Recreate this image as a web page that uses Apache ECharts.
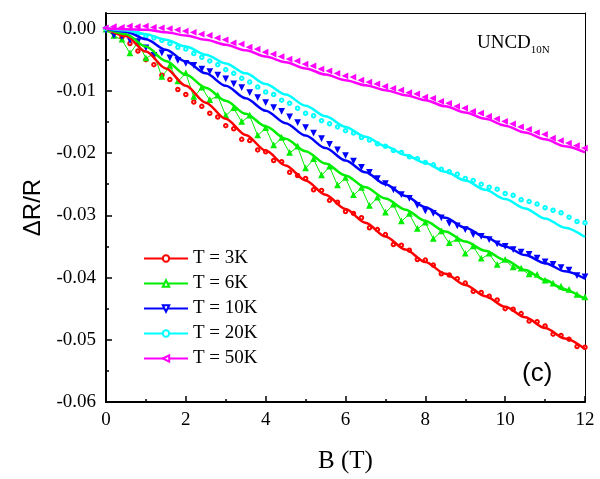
<!DOCTYPE html>
<html><head><meta charset="utf-8">
<script src="https://cdn.jsdelivr.net/npm/echarts@6/dist/echarts.min.js"></script>
<style>html,body{margin:0;padding:0;background:#fff}#c{width:600px;height:479px}</style>
</head><body><div id="c"></div>
<script>
const seriesNames = ['T = 3K','T = 6K','T = 10K','T = 20K','T = 50K'];
const colors = ['#ff0000','#00ee00','#0000ff','#00ffff','#ff00ff'];
const xTicks = [0,2,4,6,8,10,12];
const yTicks = [-0.06,-0.05,-0.04,-0.03,-0.02,-0.01,0.00];

// Fit curve field values (T)
const bFit = [0,0.5,1,1.5,2,2.5,3,3.5,4,4.5,5,5.5,6,6.5,7,7.5,8,8.5,9,9.5,10,10.5,11,11.5,12];
const fit3K  = [0,-0.0012,-0.0037,-0.0064,-0.0092,-0.0119,-0.0145,-0.0171,-0.0196,-0.0220,-0.0244,-0.0267,-0.0290,-0.0312,-0.0334,-0.0355,-0.0375,-0.0394,-0.0412,-0.0430,-0.0447,-0.0464,-0.0481,-0.0498,-0.0515];
const fit6K  = [0,-0.0009,-0.0029,-0.0052,-0.0074,-0.0095,-0.0116,-0.0137,-0.0157,-0.0177,-0.0197,-0.0217,-0.0236,-0.0255,-0.0273,-0.0291,-0.0309,-0.0326,-0.0342,-0.0357,-0.0372,-0.0388,-0.0404,-0.0420,-0.0435];
const fit10K = [0,-0.0005,-0.0017,-0.0034,-0.0053,-0.0072,-0.0092,-0.0112,-0.0132,-0.0152,-0.0172,-0.0192,-0.0212,-0.0231,-0.0250,-0.0269,-0.0287,-0.0304,-0.0320,-0.0335,-0.0350,-0.0364,-0.0377,-0.0390,-0.0402];
const fit20K = [0,-0.0003,-0.0009,-0.0018,-0.0029,-0.0042,-0.0056,-0.0072,-0.0089,-0.0106,-0.0124,-0.0141,-0.0158,-0.0174,-0.0189,-0.0203,-0.0216,-0.0230,-0.0244,-0.0259,-0.0274,-0.0289,-0.0305,-0.0320,-0.0335];
const fit50K = [0,-0.0001,-0.0002,-0.0006,-0.0011,-0.0018,-0.0026,-0.0035,-0.0045,-0.0054,-0.0064,-0.0074,-0.0083,-0.0091,-0.0099,-0.0107,-0.0115,-0.0125,-0.0135,-0.0145,-0.0156,-0.0167,-0.0178,-0.0189,-0.0199];

// Measured data field values (T)
const bData = [0,0.2,0.4,0.6,0.8,1.0,1.2,1.4,1.6,1.8,2.0,2.2,2.4,2.6,2.8,3.0,3.2,3.4,3.6,3.8,4.0,4.2,4.4,4.6,4.8,5.0,5.2,5.4,5.6,5.8,6.0,6.2,6.4,6.6,6.8,7.0,7.2,7.4,7.6,7.8,8.0,8.2,8.4,8.6,8.8,9.0,9.2,9.4,9.6,9.8,10.0,10.2,10.4,10.6,10.8,11.0,11.2,11.4,11.6,11.8,12.0];
const data3K = [0.0000,-0.0006,-0.0014,-0.0024,-0.0036,-0.0050,-0.0058,-0.0075,-0.0082,-0.0098,-0.0106,-0.0118,-0.0125,-0.0136,-0.0142,-0.0156,-0.0161,-0.0178,-0.0180,-0.0195,-0.0198,-0.0212,-0.0214,-0.0231,-0.0236,-0.0241,-0.0259,-0.0260,-0.0276,-0.0279,-0.0294,-0.0297,-0.0304,-0.0320,-0.0323,-0.0331,-0.0347,-0.0348,-0.0356,-0.0371,-0.0372,-0.0380,-0.0394,-0.0396,-0.0402,-0.0409,-0.0422,-0.0424,-0.0430,-0.0436,-0.0450,-0.0451,-0.0458,-0.0470,-0.0471,-0.0478,-0.0491,-0.0493,-0.0499,-0.0511,-0.0512];
const data6K = [-0.0002,-0.0012,-0.0018,-0.0040,-0.0022,-0.0048,-0.0040,-0.0078,-0.0060,-0.0085,-0.0072,-0.0110,-0.0095,-0.0115,-0.0108,-0.0140,-0.0128,-0.0150,-0.0140,-0.0172,-0.0160,-0.0188,-0.0176,-0.0200,-0.0190,-0.0225,-0.0210,-0.0236,-0.0222,-0.0252,-0.0240,-0.0268,-0.0256,-0.0285,-0.0272,-0.0296,-0.0283,-0.0310,-0.0298,-0.0322,-0.0312,-0.0338,-0.0326,-0.0345,-0.0338,-0.0362,-0.0350,-0.0370,-0.0362,-0.0380,-0.0372,-0.0384,-0.0386,-0.0395,-0.0396,-0.0405,-0.0410,-0.0415,-0.0420,-0.0428,-0.0432];
const data10K = [-0.0002,-0.0010,-0.0012,-0.0018,-0.0020,-0.0030,-0.0042,-0.0038,-0.0046,-0.0050,-0.0055,-0.0058,-0.0064,-0.0068,-0.0074,-0.0080,-0.0088,-0.0094,-0.0102,-0.0110,-0.0118,-0.0126,-0.0132,-0.0141,-0.0150,-0.0158,-0.0167,-0.0176,-0.0185,-0.0194,-0.0203,-0.0212,-0.0222,-0.0230,-0.0240,-0.0248,-0.0258,-0.0266,-0.0272,-0.0283,-0.0292,-0.0296,-0.0303,-0.0312,-0.0316,-0.0322,-0.0330,-0.0333,-0.0338,-0.0345,-0.0349,-0.0354,-0.0358,-0.0362,-0.0368,-0.0374,-0.0378,-0.0383,-0.0387,-0.0396,-0.0398];
const data20K = [0.0000,-0.0002,-0.0003,-0.0005,-0.0008,-0.0012,-0.0015,-0.0019,-0.0024,-0.0030,-0.0033,-0.0040,-0.0046,-0.0052,-0.0058,-0.0066,-0.0072,-0.0080,-0.0086,-0.0094,-0.0102,-0.0106,-0.0115,-0.0120,-0.0128,-0.0136,-0.0140,-0.0148,-0.0153,-0.0158,-0.0164,-0.0168,-0.0175,-0.0179,-0.0185,-0.0189,-0.0196,-0.0199,-0.0206,-0.0209,-0.0215,-0.0219,-0.0226,-0.0230,-0.0234,-0.0241,-0.0244,-0.0250,-0.0255,-0.0258,-0.0265,-0.0268,-0.0275,-0.0278,-0.0282,-0.0288,-0.0292,-0.0296,-0.0303,-0.0310,-0.0312];
const data50K = [0.0001,0.0003,0.0002,0.0004,0.0003,0.0004,0.0002,0.0001,0.0000,-0.0002,-0.0004,-0.0006,-0.0009,-0.0011,-0.0015,-0.0018,-0.0023,-0.0025,-0.0030,-0.0033,-0.0038,-0.0041,-0.0045,-0.0049,-0.0052,-0.0057,-0.0060,-0.0065,-0.0068,-0.0072,-0.0076,-0.0078,-0.0083,-0.0086,-0.0089,-0.0093,-0.0096,-0.0099,-0.0103,-0.0105,-0.0110,-0.0112,-0.0117,-0.0120,-0.0125,-0.0128,-0.0133,-0.0136,-0.0141,-0.0145,-0.0149,-0.0153,-0.0158,-0.0162,-0.0167,-0.0170,-0.0176,-0.0180,-0.0184,-0.0188,-0.0192];

const fits = [fit3K, fit6K, fit10K, fit20K, fit50K];
const datas = [data3K, data6K, data10K, data20K, data50K];
const symbols = ['emptyCircle','emptyTriangle','emptyTriangle','emptyCircle','emptyTriangle'];
const rotations = [0, 0, 180, 0, 90];

const pair = (xs, ys) => xs.map((x, i) => [x, ys[i]]);
const serif = 'Liberation Serif';
const sans = 'Liberation Sans';

const series = [];
datas.forEach((d, i) => {
  series.push({
    name: 'data ' + seriesNames[i],
    type: 'line',
    data: pair(bData, d),
    symbol: symbols[i],
    symbolRotate: rotations[i],
    symbolSize: 3.5,
    showSymbol: true,
    lineStyle: { width: i === 1 ? 1 : 0, color: colors[i] },
    itemStyle: { color: colors[i], borderColor: colors[i], borderWidth: 1 },
    z: 2,
    silent: true,
    animation: false
  });
});
fits.forEach((f, i) => {
  series.push({
    name: seriesNames[i],
    type: 'line',
    data: pair(bFit, f),
    smooth: 0.3,
    smoothMonotone: 'x',
    symbol: symbols[i],
    symbolRotate: rotations[i],
    symbolSize: 4,
    showSymbol: false,
    lineStyle: { width: 2.5, color: colors[i] },
    itemStyle: { color: colors[i], borderColor: colors[i] },
    z: 3,
    animation: false
  });
});

const chart = echarts.init(document.getElementById('c'), null, { renderer: 'canvas' });
chart.setOption({
  animation: false,
  backgroundColor: '#fff',
  grid: { left: 106, right: 15, top: 13, bottom: 76, containLabel: false },
  legend: {
    data: seriesNames,
    orient: 'vertical',
    left: 138, top: 244,
    itemWidth: 44, itemHeight: 8, itemGap: 6,
    textStyle: { fontFamily: serif, fontSize: 19, color: '#000' }
  },
  xAxis: [{
    type: 'value', min: 0, max: 12, interval: 2,
    name: 'B (T)', nameLocation: 'middle', nameGap: 47,
    nameTextStyle: { fontFamily: serif, fontSize: 25, color: '#000' },
    axisLine: { onZero: false, lineStyle: { color: '#000', width: 2 } },
    axisTick: { inside: true, length: 6, lineStyle: { color: '#000', width: 1.5 } },
    minorTick: { show: true, splitNumber: 2, length: 3, lineStyle: { color: '#000', width: 1.5 } },
    axisLabel: { fontFamily: serif, fontSize: 19, color: '#000', margin: 9,
      customValues: xTicks, formatter: v => String(v) },
    splitLine: { show: false }
  }, {
    type: 'value', position: 'top', min: 0, max: 12,
    axisLine: { onZero: false, lineStyle: { color: '#000', width: 1 } },
    axisTick: { show: false }, axisLabel: { show: false }, splitLine: { show: false }
  }],
  yAxis: [{
    type: 'value', min: -0.06, max: 0.0025, interval: 0.01,
    name: 'ΔR/R', nameLocation: 'middle', nameGap: 58,
    nameTextStyle: { fontFamily: sans, fontSize: 24, color: '#000' },
    axisLine: { onZero: false, lineStyle: { color: '#000', width: 2 } },
    axisTick: { inside: true, length: 6, lineStyle: { color: '#000', width: 1.5 }, customValues: yTicks },
    minorTick: { show: true, splitNumber: 2, length: 3, lineStyle: { color: '#000', width: 1.5 } },
    axisLabel: { fontFamily: serif, fontSize: 19, color: '#000', margin: 10,
      customValues: yTicks, formatter: v => (Math.abs(v) < 1e-9 ? 0 : v).toFixed(2) },
    splitLine: { show: false }
  }, {
    type: 'value', position: 'right', min: -0.06, max: 0.0025,
    axisLine: { onZero: false, lineStyle: { color: '#000', width: 1 } },
    axisTick: { show: false }, axisLabel: { show: false }, splitLine: { show: false }
  }],
  graphic: [
    { type: 'text', left: 477, top: 34, style: { rich: {
        m: { fontFamily: serif, fontSize: 19, fill: '#000' },
        s: { fontFamily: serif, fontSize: 11, fill: '#000', padding: [14, 0, 0, 0] } },
        text: '{m|UNCD}{s|10N}' } },
    { type: 'text', left: 522, top: 361, style: { text: '(c)', fontFamily: sans, fontSize: 26, fill: '#000' } }
  ],
  series: series
});
</script>
</body></html>
